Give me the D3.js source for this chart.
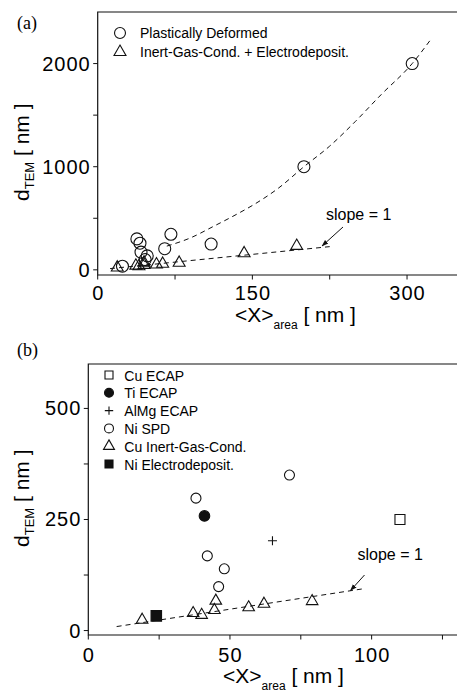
<!DOCTYPE html>
<html>
<head>
<meta charset="utf-8">
<script src="https://cdn.jsdelivr.net/npm/d3@7"></script>
<style>
  body { margin: 0; background: #fff; }
  svg { display: block; font-family: "Liberation Sans", Arial, sans-serif; }
</style>
</head>
<body>
<div id="chart"></div>
<script>
// panel (a)
const deformedPts = [[305, 2000], [200, 1000], [110, 250], [71, 345], [65, 205], [38, 300], [41, 258], [42, 172], [48, 135], [46, 100], [24, 35]];
const gasDepositPts = [[19, 22], [37, 40], [40, 35], [45, 70], [45, 48], [57, 52], [63, 58], [79, 68], [142, 160], [193, 232]];
const deformedFit = [[67, 230], [90, 310], [112, 420], [135, 540], [151, 630], [175, 790], [200, 1000], [225, 1200], [250, 1440], [275, 1700], [305, 2000], [322, 2220]];
const slopeA = [[12, 12], [225, 225]];
const xTicksA = [0, 150, 300];
const xMinorA = [75, 225];
const yTicksA = [0, 1000, 2000];
const yMinorA = [500, 1500];

// panel (b)
const cuEcap = [[110, 250]];
const tiEcap = [[41, 258]];
const almgEcap = [[65, 202]];
const niSpd = [[38, 298], [71, 350], [42, 168], [48, 139], [46, 99]];
const cuGasCond = [[19, 24], [37, 39], [40, 35], [45, 67], [44.5, 46], [56.6, 52], [62, 60], [79, 66]];
const niElectro = [[24, 33]];
const slopeB = [[10, 9], [97, 94]];
const xTicksB = [0, 50, 100];
const xMinorB = [25, 75, 125];
const yTicksB = [0, 250, 500];
const yMinorB = [125, 375];

const W = 457, H = 692;
const ink = "#111";

const svg = d3.select("#chart").append("svg").attr("width", W).attr("height", H);

svg.append("defs").append("marker")
  .attr("id", "arrow")
  .attr("viewBox", "0 0 10 10")
  .attr("refX", 9).attr("refY", 5)
  .attr("markerWidth", 7).attr("markerHeight", 7)
  .attr("orient", "auto")
  .append("path").attr("d", "M0,1.5L10,5L0,8.5Z").attr("fill", ink);

function symbolPath(type, size) {
  return d3.symbol().type(type).size(size)();
}

function drawFrame(g, x, y, cfg) {
  const [x0, x1] = x.range();
  const [y0, y1] = y.range();
  // frame: top + left + bottom (right edge is off-canvas)
  g.append("path")
    .attr("d", `M${x1},${y1}H${x0}V${y0}H${x1}`)
    .attr("fill", "none").attr("stroke", ink).attr("stroke-width", 1.2);

  g.selectAll(".xt").data(cfg.xTicks.concat(cfg.xMinor)).enter().append("line")
    .attr("x1", (d) => x(d)).attr("x2", (d) => x(d))
    .attr("y1", y0).attr("y2", y0 + 4.5)
    .attr("stroke", ink).attr("stroke-width", 1);
  g.selectAll(".yt").data(cfg.yTicks.concat(cfg.yMinor)).enter().append("line")
    .attr("x1", x0 - 4.5).attr("x2", x0)
    .attr("y1", (d) => y(d)).attr("y2", (d) => y(d))
    .attr("stroke", ink).attr("stroke-width", 1);

  g.selectAll(".xl").data(cfg.xTicks).enter().append("text")
    .attr("x", (d) => x(d) + 0.5).attr("y", y0 + cfg.xLabelDy)
    .attr("text-anchor", "middle")
    .style("font-size", "20px").style("letter-spacing", "1px")
    .text((d) => d);
  g.selectAll(".yl").data(cfg.yTicks).enter().append("text")
    .attr("x", x0 - 7).attr("y", (d) => y(d) + 7)
    .attr("text-anchor", "end")
    .style("font-size", "20px").style("letter-spacing", "1px")
    .text((d) => d);
}

function axisTitles(g, xt, yt) {
  const tx = g.append("text").attr("x", xt[0]).attr("y", xt[1]).style("font-size", "21px");
  tx.append("tspan").text("<X>");
  tx.append("tspan").attr("dy", 7).style("font-size", "12px").text("area");
  tx.append("tspan").attr("dy", -7).text(" [ nm ]");

  const ty = g.append("text")
    .attr("transform", `translate(${yt[0]},${yt[1]}) rotate(-90)`)
    .style("font-size", "21px");
  ty.append("tspan").text("d");
  ty.append("tspan").attr("dy", 5).style("font-size", "13px").text("TEM");
  ty.append("tspan").attr("dy", -5).text(" [ nm ]");
}

function dashed(g, pts, x, y, curve) {
  g.append("path")
    .attr("d", d3.line().x((d) => x(d[0])).y((d) => y(d[1])).curve(curve)(pts))
    .attr("fill", "none").attr("stroke", ink).attr("stroke-width", 1)
    .attr("stroke-dasharray", "5,4");
}

function arrow(g, from, to) {
  g.append("line")
    .attr("x1", from[0]).attr("y1", from[1]).attr("x2", to[0]).attr("y2", to[1])
    .attr("stroke", ink).attr("stroke-width", 1)
    .attr("marker-end", "url(#arrow)");
}

function points(g, data, x, y, path, fill) {
  g.selectAll(null).data(data).enter().append("path")
    .attr("transform", (d) => `translate(${x(d[0])},${y(d[1])})`)
    .attr("d", path)
    .attr("fill", fill || "none")
    .attr("stroke", ink).attr("stroke-width", 1.1);
}

// ---------- panel (a) ----------
const xA = d3.scaleLinear().domain([0, 350]).range([97.7, 458.6]);
const yA = d3.scaleLinear().domain([-50, 2500]).range([275, 12]);
const gA = svg.append("g");

drawFrame(gA, xA, yA, { xTicks: xTicksA, xMinor: xMinorA, yTicks: yTicksA, yMinor: yMinorA, xLabelDy: 25 });
dashed(gA, deformedFit, xA, yA, d3.curveMonotoneX);
dashed(gA, slopeA, xA, yA, d3.curveLinear);

const circA = symbolPath(d3.symbolCircle, Math.PI * 36);
const triA = symbolPath(d3.symbolTriangle, 62);
points(gA, deformedPts, xA, yA, circA);
points(gA, gasDepositPts, xA, yA, triA);

gA.append("path").attr("transform", "translate(120,33)").attr("d", symbolPath(d3.symbolCircle, Math.PI * 30))
  .attr("fill", "none").attr("stroke", ink).attr("stroke-width", 1.1);
gA.append("path").attr("transform", "translate(120,52)").attr("d", triA)
  .attr("fill", "none").attr("stroke", ink).attr("stroke-width", 1.1);
gA.append("text").attr("x", 140).attr("y", 38).style("font-size", "14px").text("Plastically Deformed");
gA.append("text").attr("x", 140).attr("y", 57).style("font-size", "14px").text("Inert-Gas-Cond. + Electrodeposit.");

gA.append("text").attr("x", 326).attr("y", 220).style("font-size", "16px").text("slope = 1");
arrow(gA, [343, 227], [322, 246]);

axisTitles(gA, [235, 321.7], [28.5, 201]);
gA.append("text").attr("x", 17).attr("y", 29)
  .style("font-family", "'Liberation Serif', 'Times New Roman', serif").style("font-size", "18px").text("(a)");

// ---------- panel (b) ----------
const xB = d3.scaleLinear().domain([0, 135]).range([88.3, 470.8]);
const yB = d3.scaleLinear().domain([-10, 600]).range([635, 364]);
const gB = svg.append("g");

drawFrame(gB, xB, yB, { xTicks: xTicksB, xMinor: xMinorB, yTicks: yTicksB, yMinor: yMinorB, xLabelDy: 27 });
dashed(gB, slopeB, xB, yB, d3.curveLinear);

const circB = symbolPath(d3.symbolCircle, Math.PI * 25);
const sqB = symbolPath(d3.symbolSquare, 100);
const triB = symbolPath(d3.symbolTriangle, 58);
const plusB = "M-4.5,0H4.5M0,-4.5V4.5";

points(gB, niSpd, xB, yB, circB);
points(gB, tiEcap, xB, yB, symbolPath(d3.symbolCircle, Math.PI * 28), ink);
points(gB, almgEcap, xB, yB, plusB);
points(gB, cuEcap, xB, yB, sqB);
points(gB, cuGasCond, xB, yB, triB);
points(gB, niElectro, xB, yB, symbolPath(d3.symbolSquare, 110), ink);

const legendB = [
  { label: "Cu ECAP", path: symbolPath(d3.symbolSquare, 64), fill: "none" },
  { label: "Ti ECAP", path: symbolPath(d3.symbolCircle, Math.PI * 20), fill: ink },
  { label: "AlMg ECAP", path: "M-4.2,0H4.2M0,-4.2V4.2", fill: "none" },
  { label: "Ni SPD", path: symbolPath(d3.symbolCircle, Math.PI * 20), fill: "none" },
  { label: "Cu Inert-Gas-Cond.", path: symbolPath(d3.symbolTriangle, 52), fill: "none" },
  { label: "Ni Electrodeposit.", path: symbolPath(d3.symbolSquare, 64), fill: ink },
];
const leg = gB.selectAll(".leg").data(legendB).enter().append("g")
  .attr("transform", (d, i) => `translate(109,${375 + i * 17.8})`);
leg.append("path").attr("d", (d) => d.path).attr("fill", (d) => d.fill)
  .attr("stroke", ink).attr("stroke-width", 1.1);
leg.append("text").attr("x", 15.3).attr("y", 5.5).style("font-size", "14px").text((d) => d.label);

gB.append("text").attr("x", 357.5).attr("y", 560).style("font-size", "16px").text("slope = 1");
arrow(gB, [364.5, 575], [350.5, 590.5]);

axisTitles(gB, [223, 683], [28.5, 547]);
gB.append("text").attr("x", 17).attr("y", 356)
  .style("font-family", "'Liberation Serif', 'Times New Roman', serif").style("font-size", "18px").text("(b)");
</script>
</body>
</html>
